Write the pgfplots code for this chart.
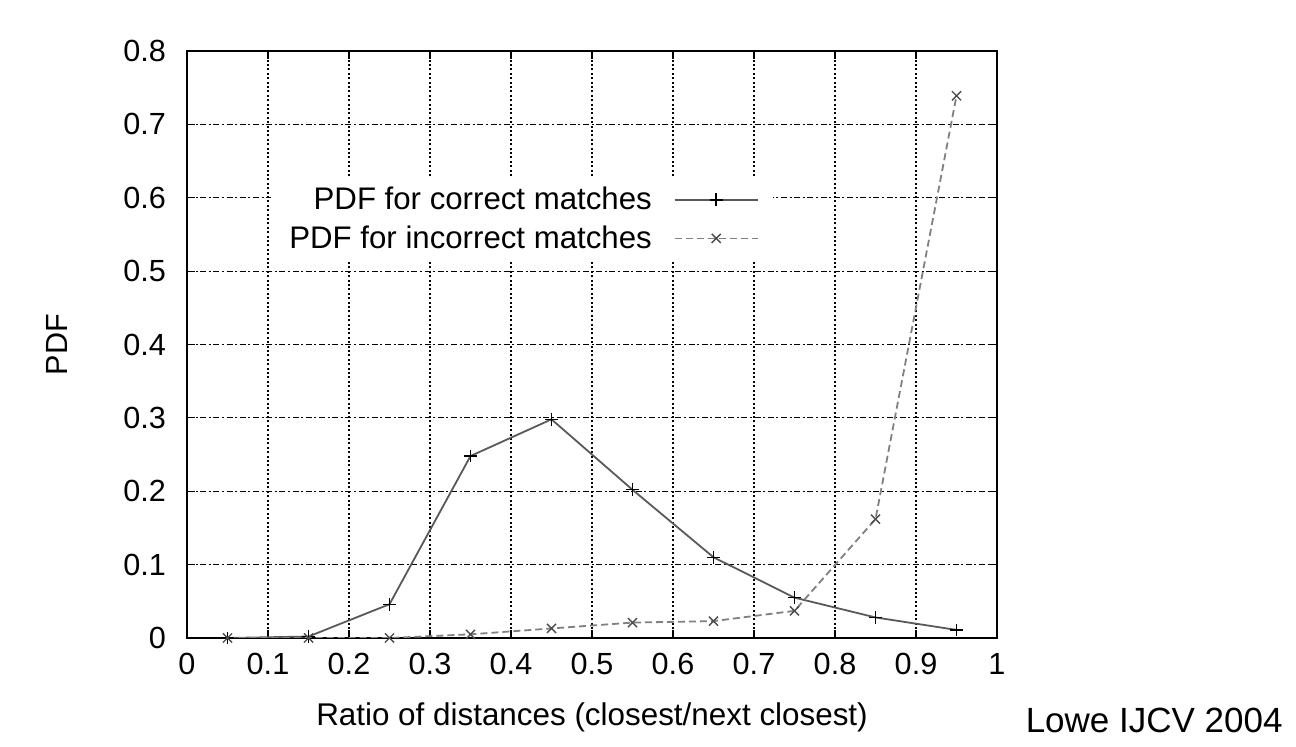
\documentclass[border=0pt]{standalone}
\usepackage{pgfplots}
\pgfplotsset{compat=1.18}
\usepackage{fontspec}
\setmainfont{Liberation Sans}
\begin{document}
\begin{tikzpicture}
\useasboundingbox (0,0) rectangle (648pt,373.5pt);
\begin{axis}[
  at={(93.5pt,54.5pt)}, anchor=south west,
  scale only axis, width=405pt, height=293.5pt,
  xmin=0, xmax=1, ymin=0, ymax=0.8,
  xtick={0,0.1,...,1.0}, ytick={0,0.1,...,0.8},
  /pgf/number format/assume math mode=true,
  /pgf/number format/fixed,
  font=\fontsize{15}{18}\selectfont,
  tick label style={font=\fontsize{15.3}{18}\selectfont},
  yticklabel style={xshift=-7pt},
  xticklabel style={yshift=-4pt},
  tick align=inside, major tick length=4pt,
  tick style={black, line width=0.6pt},
  axis line style={black, line width=0.8pt},
  grid=major,
  major x grid style={black, line width=0.55pt, dash pattern=on 1pt off 1.2pt},
  major y grid style={black, line width=0.55pt, dash pattern=on 3pt off 1.3pt on 1pt off 1.3pt},
  xlabel={Ratio of distances (closest/next closest)},
  ylabel={PDF},
  every axis x label/.style={at={([yshift=-39.5pt]axis description cs:0.5,0)}, anchor=center, font=\fontsize{15.7}{18}\selectfont},
  every axis y label/.style={at={([xshift=-65pt]axis description cs:0,0.5)}, anchor=center, rotate=90, font=\fontsize{15.3}{18}\selectfont},
  legend plot pos=right,
  legend cell align=right,
  legend style={at={(axis description cs:0.7235,0.786)}, anchor=north east,
    draw=none, fill=white, font=\fontsize{15.6}{18}\selectfont,
    row sep=2.5pt, inner xsep=7pt, inner ysep=3pt,
    /tikz/every odd column/.append style={column sep=9pt}},
  legend image code/.code={\draw[mark repeat=2,mark phase=2] plot coordinates {(0cm,0cm) (0.73cm,0cm) (1.46cm,0cm)};},
]
\addplot[color=black!65, line width=0.9pt, mark=+, mark size=3.2pt, mark options={solid, black, line width=0.7pt}]
  coordinates {(0.05,0.0) (0.15,0.002) (0.25,0.046) (0.35,0.248) (0.45,0.298) (0.55,0.202) (0.65,0.110) (0.75,0.055) (0.85,0.028) (0.95,0.011)};
\addlegendentry{PDF for correct matches}
\addplot[color=black!50, line width=0.9pt, dash pattern=on 3.5pt off 2pt, mark=x, mark size=3.2pt, mark options={solid, black!70, line width=0.7pt}]
  coordinates {(0.05,0.0) (0.15,0.0) (0.25,0.0) (0.35,0.005) (0.45,0.013) (0.55,0.021) (0.65,0.023) (0.75,0.037) (0.85,0.162) (0.95,0.739)};
\addlegendentry{PDF for incorrect matches}
\end{axis}
\node[anchor=east, font=\fontsize{17.5}{21}\selectfont, inner sep=0pt] at (641.5pt,13.5pt) {Lowe IJCV 2004};
\end{tikzpicture}
\end{document}
